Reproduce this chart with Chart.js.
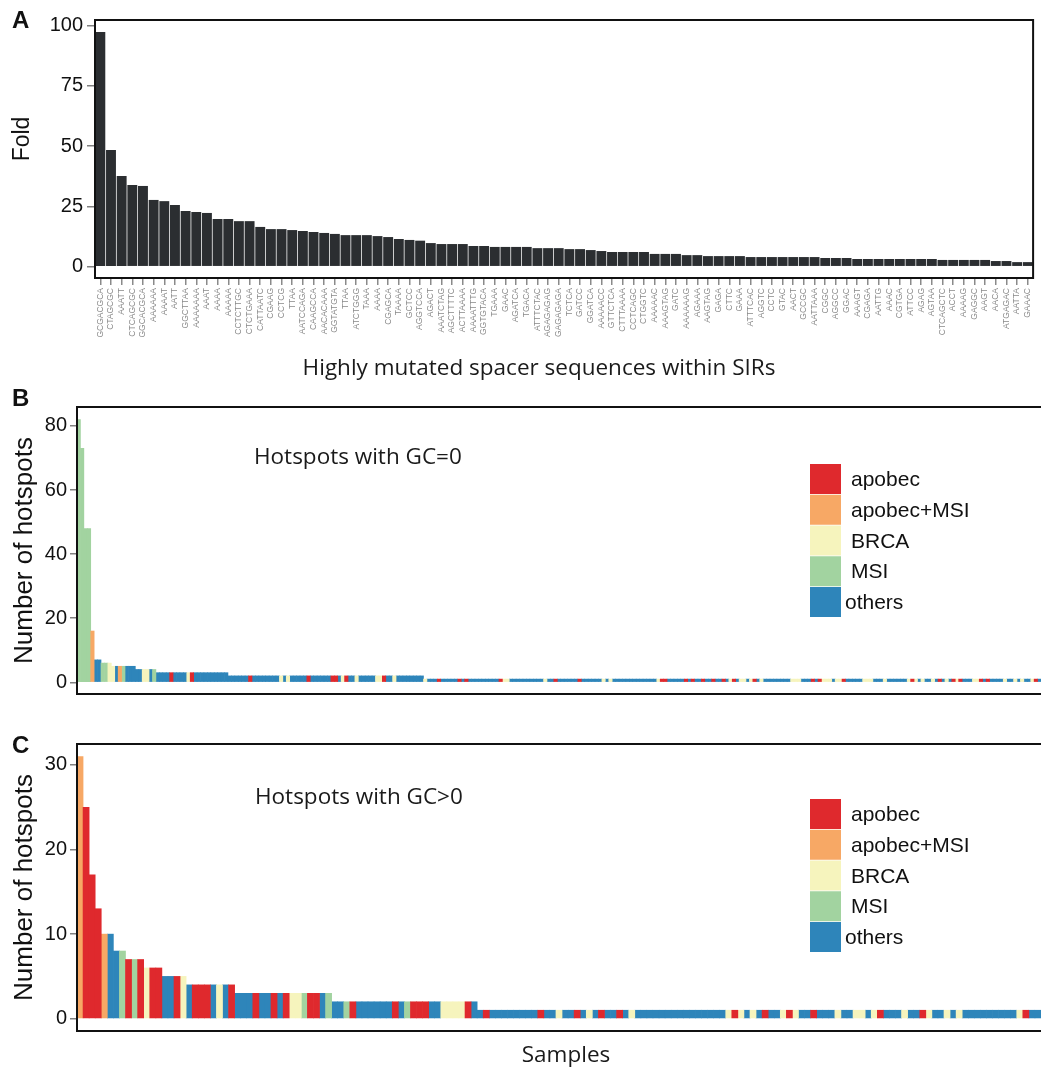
<!DOCTYPE html>
<html>
<head>
<meta charset="utf-8">
<script src="https://cdn.jsdelivr.net/npm/chart.js@4.4.1/dist/chart.umd.min.js"></script>
<style>
html,body{margin:0;padding:0;background:#fff;width:1041px;height:1071px;overflow:hidden;}
.panel{position:absolute;left:0;width:1041px;}
canvas{display:block;}
</style>
</head>
<body>
<div class="panel" style="top:0;height:390px"><canvas id="cA"></canvas></div>
<div class="panel" style="top:385px;height:335px"><canvas id="cB"></canvas></div>
<div class="panel" style="top:720px;height:351px"><canvas id="cC"></canvas></div>
<script>
// ---------------- DATA ----------------
// Panel A: spacer sequences and fold values
const seqLabels = ['GCGACGCA','CTAGCGC','AAATT','CTCAGCGC','GGCACGCA','AAAAAA','AAAAT','AATT','GGCTTAA','AAAAAAA',
  'AAAT','AAAA','AAAAA','CCTCTTGC','CTCTGAAA','CATTAATC','CGAAG','CCTCG','TTAA','AATCCAGA',
  'CAAGCCA','AACACAAA','GGTATGTA','TTAA','ATCTGGG','TAAA','AAAA','CGAGCA','TAAAA','GCTCC',
  'AGGTCCA','AGACT','AAATCTAG','AGCTTTTC','ACTTAAAA','AAAATTTG','GGTGTACA','TGAAA','GAAC','AGATCA',
  'TGACA','ATTTCTAC','AGAGAGAG','GAGAGAGA','TCTCA','GATCC','GGATCA','AAAAACC','GTTCTCA','CTTTAAAA',
  'CCTCAGC','CTGGTC','AAAAAC','AAAGTAG','GATC','AAAAAAG','AGAAA','AAGTAG','GAGA','CTTC',
  'GAAA','ATTTCAC','AGGTC','CCTC','GTAC','AACT','GCCGC','AATTAAA','CGGC','AGGCC',
  'GGAC','AAAGT','CGAGA','AATTG','AAAC','CGTGA','ATTCC','AGAG','AGTAA','CTCAGCTC',
  'ACCT','AAAAG','GAGGC','AAGT','AACA','ATGAGAC','AATTA','GAAAC'];
const foldValues = [97.4, 48.4, 37.6, 33.9, 33.5, 27.7, 27.2, 25.6, 23.1, 22.7,
  22.3, 19.8, 19.8, 18.9, 18.9, 16.5, 15.6, 15.6, 15.2, 14.8,
  14.4, 14.0, 13.6, 13.1, 13.1, 13.1, 12.7, 12.3, 11.5, 11.1,
  10.8, 9.8, 9.4, 9.4, 9.4, 8.6, 8.6, 8.2, 8.2, 8.2,
  8.2, 7.7, 7.7, 7.7, 7.3, 7.3, 6.9, 6.5, 6.1, 6.1,
  6.1, 6.1, 5.3, 5.3, 5.3, 4.8, 4.8, 4.4, 4.4, 4.4,
  4.4, 4.0, 4.0, 4.0, 4.0, 4.0, 4.0, 4.0, 3.6, 3.6,
  3.6, 3.2, 3.2, 3.2, 3.2, 3.2, 3.2, 3.2, 3.2, 2.8,
  2.8, 2.8, 2.8, 2.8, 2.35, 2.35, 1.9, 1.9];
const foldTicks = [0, 25, 50, 75, 100];

// Groups (S=apobec, A=apobec+MSI, B=BRCA, M=MSI, O=others)
const groupCodes = ['S', 'A', 'B', 'M', 'O'];
const groupNames = ['apobec', 'apobec+MSI', 'BRCA', 'MSI', 'others'];
const groupColors = ['#df292d', '#f7a865', '#f6f4bd', '#a2d3a0', '#2e85ba'];

// Panel B: hotspots with GC=0 per sample
const gc0Counts = [82,73,48,48,16,7,7,6,6,6,
  5,5,5,5,5,5,5,4,4,4,
  4,4,4,3,3,3,3,3,3,3,
  3,3,3,3,3,3,3,3,3,3,
  3,3,3,3,
  2,2,2,2,2,2,2,2,2,2,
  2,2,2,2,2,2,2,2,2,2,
  2,2,2,2,2,2,2,2,2,2,
  2,2,2,2,2,2,2,2,2,2,
  2,2,2,2,2,2,2,2,2,2,
  2,2,2,2,2,2,2,
  1,1,1,1,1,1,1,1,1,1, 1,1,1,1,1,1,1,1,1,1, 1,1,1,1,1,1,1,1,1,1,
  1,1,1,1,1,1,1,1,1,1, 1,1,1,1,1,1,1,1,1,1, 1,1,1,1,1,1,1,1,1,1,
  1,1,1,1,1,1,1,1,1,1, 1,1,1,1,1,1,1,1,1,1, 1,1,1,1,1,1,1,1,1,1,
  1,1,1,1,1,1,1,1,1,1, 1,1,1,1,1,1,1,1,1,1, 1,1,1,1,1,1,1,1,1,1,
  1,1,1,1,1,1,1,1,1,1, 1,1,1,1,1,1,1,1,1,1, 1,1,1,1,1,1,1,1,1,1,
  1,1,1,1,1,1,1,1,1,1, 1,1,1,1,1,1,1,1,1,1, 1,1,1,1,1,1,1,1,1,1];
const gc0Groups = [
  'MMMMAOOMMBBOAMOOOOOBBOM',
  'OOOOSOOOOBSOOOOOOOOOO',
  'OOOOOO S OOOOOOOO B O B OOOOO S OOOOOO SS O B S OO B OOOOO BB S OO B OOOOOOOO',
  'B OOO S OOOOO S O S OOOOOOOOO S BB OOOOOOOOOO B OO S OOOOOO S OOOOOO B O B OOOOOOOOOOOOO B SS OOOOO S O S OO S OO S OO S O B S O BB O B S O B OOOOOOOO BBB OOO S O S BBB O BB S OOOOO BBB OOO B OOOOOO B S B O B OO B O S O B O S B S OOO BB S O S OOOO B OO B O B OO B S O'
].join('').replace(/ /g, '').split('');
const gc0Ticks = [0, 20, 40, 60, 80];

// Panel C: hotspots with GC>0 per sample
const gcPosCounts = [31,25,17,13,10,10,8,8,7,7,
  7,6,6,6,5,5,5,5,4,4,
  4,4,4,4,4,4,3,3,3,3,
  3,3,3,3,3,3,3,3,3,3,
  3,3,2,2,2,2,2,2,2,2,
  2,2,2,2,2,2,2,2,2,2,
  2,2,2,2,2,2,
  1,1,1,1,1,1,1,1,1,1, 1,1,1,1,1,1,1,1,1,1, 1,1,1,1,1,1,1,1,1,1,
  1,1,1,1,1,1,1,1,1,1, 1,1,1,1,1,1,1,1,1,1, 1,1,1,1,1,1,1,1,1,1,
  1,1,1,1,1,1,1,1,1,1, 1,1,1,1,1,1,1,1,1,1, 1,1,1,1,1,1,1,1,1,1,
  1,1,1];
const gcPosGroups = [
  'A S S S A O O M S M S B S S O O S B O S S S O B O S O O O S O O S O S B B M S S O M O O M S OOOOO O S O M SSS OO BBBB S O',
  'O S OOOOOO OO S OO B OO S O B O S OO S O B OOOOOOO OOOOOOOO B S B O B O S OO B S B OO S O OO B OO BB O B S OO O B OO S B OO B O B O OOOOOOOO B S OO'
].join('').replace(/ /g, '').split('');
const gcPosTicks = [0, 10, 20, 30];

// ---------------- HELPERS ----------------
Chart.defaults.font.family = "'Liberation Sans', Arial, sans-serif";
Chart.defaults.color = '#111';

function framePlugin(sides) {
  return {
    id: 'frame',
    afterDatasetsDraw(chart) {
      const {left, right, top, bottom} = chart.chartArea;
      const ctx = chart.ctx;
      ctx.save();
      ctx.strokeStyle = '#111';
      ctx.lineWidth = 2;
      ctx.beginPath();
      if (sides.includes('t')) { ctx.moveTo(left - 1, top); ctx.lineTo(right + 1, top); }
      if (sides.includes('b')) { ctx.moveTo(left - 1, bottom); ctx.lineTo(right + 1, bottom); }
      if (sides.includes('l')) { ctx.moveTo(left, top); ctx.lineTo(left, bottom); }
      if (sides.includes('r')) { ctx.moveTo(right, top); ctx.lineTo(right, bottom); }
      ctx.stroke();
      ctx.restore();
    }
  };
}

function textPlugin(items) {
  return {
    id: 'texts',
    afterDraw(chart) {
      const ctx = chart.ctx;
      ctx.save();
      items.forEach(t => {
        ctx.save();
        ctx.font = t.font;
        ctx.fillStyle = t.color || '#1a1a1a';
        ctx.textAlign = t.align || 'left';
        ctx.textBaseline = t.baseline || 'alphabetic';
        ctx.translate(t.x, t.y);
        if (t.rotate) ctx.rotate(t.rotate);
        ctx.fillText(t.text, 0, 0);
        ctx.restore();
      });
      ctx.restore();
    }
  };
}

function legendPlugin(x, y) {
  const textShift = [0, 0, 0, 0, -6];
  return {
    id: 'boxLegend',
    afterDraw(chart) {
      const ctx = chart.ctx;
      ctx.save();
      groupNames.forEach((name, i) => {
        const top = y + i * 30.75;
        ctx.fillStyle = groupColors[i];
        ctx.fillRect(x, top, 31, 30);
        ctx.fillStyle = '#111';
        ctx.font = "21px 'Liberation Sans', Arial, sans-serif";
        ctx.textAlign = 'left';
        ctx.textBaseline = 'alphabetic';
        ctx.fillText(name, x + 41 + textShift[i], top + 22);
      });
      ctx.restore();
    }
  };
}

const titleFont = "22.5px 'Open Sans', sans-serif";
const letterFont = "bold 24px 'Liberation Sans', Arial, sans-serif";
const axisTitleFont = "25px 'Liberation Sans', Arial, sans-serif";

// ---------------- PANEL A ----------------
new Chart(document.getElementById('cA'), {
  type: 'bar',
  data: {
    labels: seqLabels,
    datasets: [{
      label: 'Fold',
      data: foldValues,
      backgroundColor: '#2b2e31',
      borderWidth: 0,
      categoryPercentage: 1,
      barPercentage: 0.93
    }]
  },
  options: {
    responsive: true,
    maintainAspectRatio: false,
    animation: false,
    devicePixelRatio: 1,
    layout: {padding: {left: 0, top: 20, right: 5, bottom: 0}},
    plugins: {legend: {display: false}, tooltip: {enabled: false}},
    scales: {
      x: {
        afterFit: s => { s.height = 112; },
        border: {display: false},
        grid: {display: true, drawOnChartArea: false, drawTicks: true, tickLength: 7, color: '#8a8a8a', lineWidth: 1.5, offset: false},
        ticks: {autoSkip: false, minRotation: 90, maxRotation: 90, padding: 3, color: '#8a8a8a', font: {size: 8.5}}
      },
      y: {
        min: -4.69,
        max: 102.36,
        afterBuildTicks: s => { s.ticks = foldTicks.map(v => ({value: v})); },
        afterFit: s => { s.width = 95; },
        border: {display: false},
        grid: {drawOnChartArea: false, drawTicks: true, tickLength: 8, color: '#808080', lineWidth: 1.5},
        ticks: {padding: 4, color: '#111', font: {size: 20}}
      }
    }
  },
  plugins: [
    framePlugin('tblr'),
    textPlugin([
      {text: 'A', x: 12, y: 28, font: letterFont, color: '#111'},
      {text: 'Fold', x: 23, y: 139, font: "23px 'Liberation Sans', Arial, sans-serif", color: '#111', align: 'center', baseline: 'middle', rotate: -Math.PI / 2},
      {text: 'Highly mutated spacer sequences within SIRs', x: 539, y: 375, font: titleFont, align: 'center'}
    ])
  ]
});

// ---------------- SAMPLE PANELS ----------------
function makeSampleChart(id, counts, groups, yMin, yMax, yTicks, pad, texts, legendY) {
  const labels = counts.map((_, i) => String(i + 1));
  const datasets = groupCodes.map((code, g) => ({
    label: groupNames[g],
    data: counts.map((v, i) => groups[i] === code ? v : null),
    backgroundColor: groupColors[g],
    borderWidth: 0,
    grouped: false,
    categoryPercentage: 1,
    barPercentage: 1
  }));
  return new Chart(document.getElementById(id), {
    type: 'bar',
    data: {labels, datasets},
    options: {
      responsive: true,
      maintainAspectRatio: false,
      animation: false,
      devicePixelRatio: 1,
      layout: {padding: pad},
      plugins: {legend: {display: false}, tooltip: {enabled: false}},
      scales: {
        x: {display: false},
        y: {
          min: yMin,
          max: yMax,
          afterBuildTicks: s => { s.ticks = yTicks.map(v => ({value: v})); },
          afterFit: s => { s.width = 77; },
          border: {display: false},
          grid: {drawOnChartArea: false, drawTicks: true, tickLength: 7, color: '#808080', lineWidth: 1.5},
          ticks: {padding: 3, color: '#111', font: {size: 20}},
          title: {display: true, text: 'Number of hotspots', color: '#111', font: {size: 26}, padding: {top: 9, bottom: 0}}
        }
      }
    },
    plugins: [framePlugin('tbl'), textPlugin(texts), legendPlugin(810, legendY)]
  });
}

// Panel B
makeSampleChart('cB', gc0Counts, gc0Groups, -3.65, 85.9, gc0Ticks,
  {left: 0, top: 22, right: 0, bottom: 26},
  [
    {text: 'B', x: 12, y: 21, font: letterFont, color: '#111'},
    {text: 'Hotspots with GC=0', x: 254, y: 79, font: titleFont}
  ], 79);

// Panel C
makeSampleChart('cC', gcPosCounts, gcPosGroups, -1.455, 32.48, gcPosTicks,
  {left: 0, top: 24, right: 0, bottom: 40},
  [
    {text: 'C', x: 12, y: 33, font: letterFont, color: '#111'},
    {text: 'Hotspots with GC>0', x: 255, y: 84, font: titleFont},
    {text: 'Samples', x: 566, y: 1062 - 720, font: titleFont, align: 'center'}
  ], 79);
</script>
</body>
</html>
